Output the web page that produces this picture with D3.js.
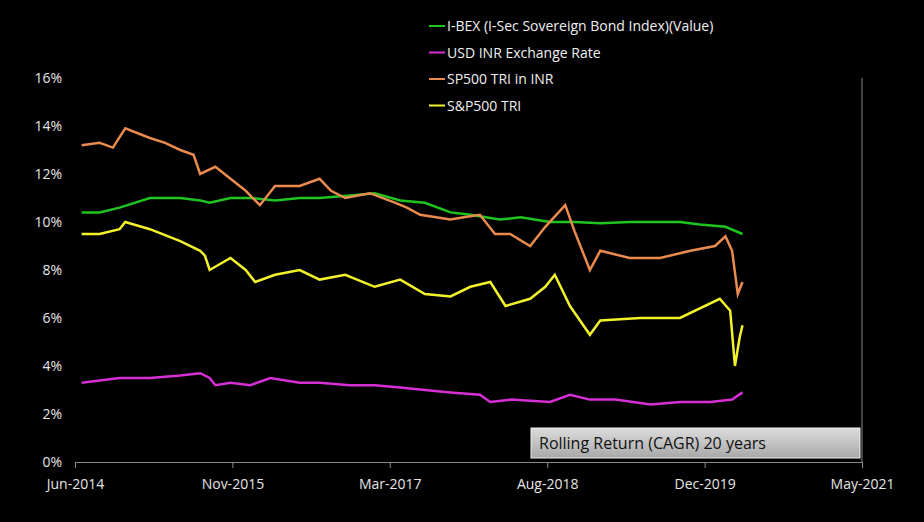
<!DOCTYPE html>
<html><head><meta charset="utf-8">
<script src="https://cdn.jsdelivr.net/npm/d3@7"></script>
<style>body{margin:0;background:#000;}</style>
</head><body>
<div id="chart"></div>
<script>
// months since Jun-2014, value in %
const monthTicks = [0, 16.6, 33.2, 49.8, 66.4, 83];
const tickLabels = ["Jun-2014", "Nov-2015", "Mar-2017", "Aug-2018", "Dec-2019", "May-2021"];
const yTicks = [0, 2, 4, 6, 8, 10, 12, 14, 16];

const ibex = [[0.7,10.4],[2.6,10.4],[4.7,10.6],[7.9,11.0],[11.1,11.0],[13.2,10.9],[14.2,10.8],[16.4,11.0],[18.5,11.0],[21.1,10.9],[23.7,11.0],[25.8,11.0],[29.0,11.1],[31.6,11.2],[34.3,10.9],[36.9,10.8],[39.6,10.4],[41.7,10.3],[44.8,10.1],[47.0,10.2],[50.1,10.0],[52.7,10.0],[55.4,9.95],[58.5,10.0],[60.7,10.0],[63.8,10.0],[65.9,9.9],[68.6,9.8],[70.4,9.5]];
const usdinr = [[0.7,3.3],[2.6,3.4],[4.7,3.5],[7.9,3.5],[11.1,3.6],[13.2,3.7],[14.2,3.5],[14.8,3.2],[16.4,3.3],[18.5,3.2],[20.6,3.5],[23.7,3.3],[25.8,3.3],[29.0,3.2],[31.6,3.2],[34.3,3.1],[36.9,3.0],[39.6,2.9],[42.7,2.8],[43.8,2.5],[46.0,2.6],[50.1,2.5],[52.2,2.8],[54.3,2.6],[57.0,2.6],[60.7,2.4],[63.8,2.5],[67.0,2.5],[69.3,2.6],[70.4,2.9]];
const sp500inr = [[0.7,13.2],[2.6,13.3],[4.0,13.1],[5.3,13.9],[7.9,13.5],[9.5,13.3],[11.1,13.0],[12.5,12.8],[13.2,12.0],[14.8,12.3],[16.4,11.8],[18.0,11.3],[19.5,10.7],[21.1,11.5],[23.7,11.5],[25.8,11.8],[27.0,11.3],[28.5,11.0],[31.1,11.2],[33.8,10.8],[35.0,10.6],[36.4,10.3],[39.6,10.1],[41.0,10.2],[42.7,10.3],[44.3,9.5],[45.9,9.5],[48.0,9.0],[49.6,9.8],[51.7,10.7],[52.7,9.6],[54.3,8.0],[55.4,8.8],[58.5,8.5],[61.7,8.5],[64.9,8.8],[67.5,9.0],[68.6,9.4],[69.3,8.8],[69.9,7.0],[70.4,7.5]];
const sp500 = [[0.7,9.5],[2.6,9.5],[4.7,9.7],[5.3,10.0],[7.9,9.7],[11.1,9.2],[13.2,8.8],[13.7,8.6],[14.2,8.0],[16.4,8.5],[18.0,8.0],[19.0,7.5],[21.1,7.8],[23.7,8.0],[25.8,7.6],[28.5,7.8],[31.6,7.3],[34.3,7.6],[36.9,7.0],[39.6,6.9],[41.7,7.3],[43.8,7.5],[45.4,6.5],[48.0,6.8],[49.6,7.3],[50.6,7.8],[52.2,6.5],[54.3,5.3],[55.4,5.9],[59.6,6.0],[63.8,6.0],[68.0,6.8],[69.1,6.3],[69.6,4.0],[70.1,5.2],[70.4,5.7]];

const series = [
  {name: "I-BEX (I-Sec Sovereign Bond Index)(Value)", color: "#1fc41f", data: ibex},
  {name: "USD INR Exchange Rate", color: "#d62fd6", data: usdinr},
  {name: "SP500 TRI in INR", color: "#e98a4f", data: sp500inr},
  {name: "S&P500 TRI", color: "#f2f22a", data: sp500}
];

const width = 924, height = 522;
const svg = d3.select("#chart").append("svg").attr("width", width).attr("height", height)
  .style("font-family", "'Open Sans', sans-serif");
svg.append("rect").attr("width", width).attr("height", height).attr("fill", "#000");

const x = d3.scaleLinear().domain([0, 83]).range([75, 862]);
const y = d3.scaleLinear().domain([0, 16]).range([462, 78]);

// right border line
svg.append("line").attr("x1", 862).attr("x2", 862).attr("y1", 78).attr("y2", 462)
  .attr("stroke", "#888").attr("stroke-width", 1);

// y axis labels (no axis line)
svg.selectAll(".ylab").data(yTicks).enter().append("text")
  .attr("x", 62).attr("y", d => y(d) + 5).attr("text-anchor", "end")
  .attr("fill", "#e6e6e6").style("font-size", "14px")
  .text(d => d + "%");

// x axis
const xAxis = svg.append("g").attr("transform", "translate(0,462)")
  .call(d3.axisBottom(x).tickValues(monthTicks).tickSize(6).tickFormat((d, i) => tickLabels[i]));
xAxis.select(".domain").attr("stroke", "#888");
xAxis.selectAll(".tick line").attr("stroke", "#888");
xAxis.selectAll("text").attr("fill", "#e6e6e6").style("font-size", "14px")
  .style("font-family", "'Open Sans', sans-serif").attr("dy", "1.3em");

// lines
const line = d3.line().x(d => x(d[0])).y(d => y(d[1])).curve(d3.curveLinear);
series.forEach(s => {
  svg.append("path").datum(s.data).attr("d", line)
    .attr("fill", "none").attr("stroke", s.color).attr("stroke-width", 2.5);
});

// legend
const legend = svg.append("g").attr("transform", "translate(429,26)");
const rows = legend.selectAll("g").data(series).enter().append("g")
  .attr("transform", (d, i) => `translate(0,${i * 26.5})`);
rows.append("line").attr("x1", 0).attr("x2", 16).attr("y1", 0).attr("y2", 0)
  .attr("stroke", d => d.color).attr("stroke-width", 2);
rows.append("text").attr("x", 18).attr("y", 5).attr("fill", "#f0f0f0")
  .style("font-size", "14px").text(d => d.name);

// label box
const grad = svg.append("defs").append("linearGradient").attr("id", "gbox").attr("x1", 0).attr("x2", 0).attr("y1", 0).attr("y2", 1);
grad.append("stop").attr("offset", "0%").attr("stop-color", "#dcdcdc");
grad.append("stop").attr("offset", "100%").attr("stop-color", "#a8a8a8");
svg.append("rect").attr("x", 531).attr("y", 428).attr("width", 329).attr("height", 30)
  .attr("fill", "url(#gbox)").attr("stroke", "#eee").attr("stroke-width", 1);
svg.append("text").attr("x", 539).attr("y", 449).attr("fill", "#111")
  .style("font-size", "16px").text("Rolling Return (CAGR) 20 years");
</script>
</body></html>
